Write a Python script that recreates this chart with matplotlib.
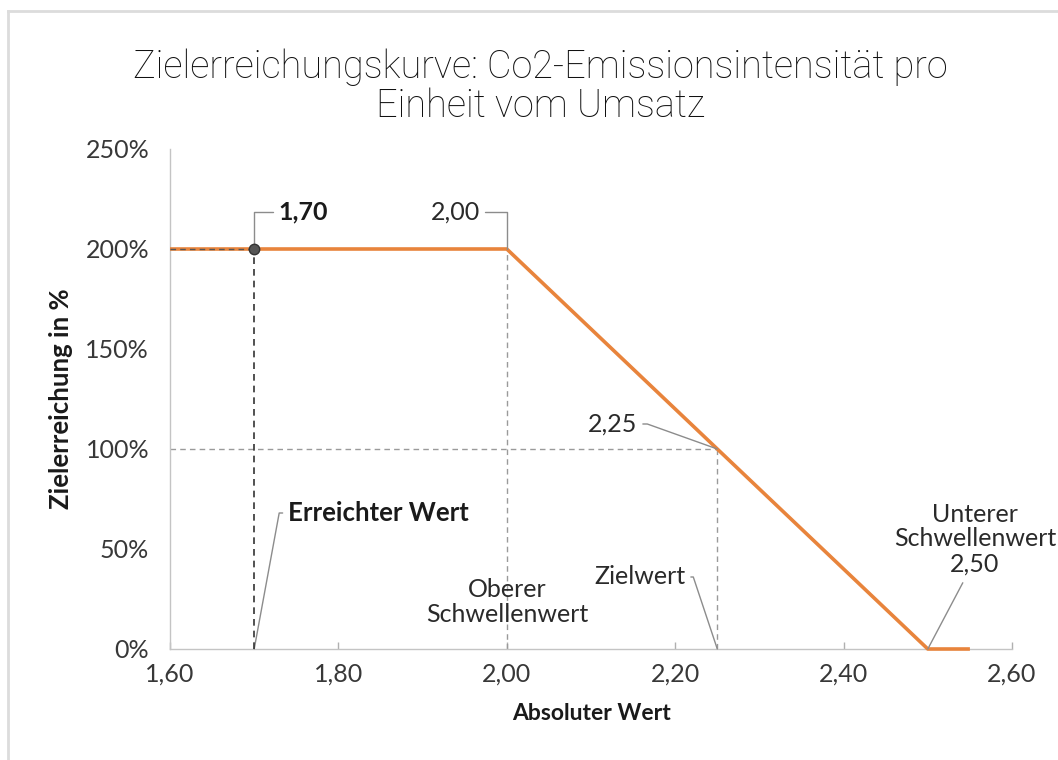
import matplotlib
matplotlib.use("Agg")
import matplotlib.pyplot as plt
from matplotlib.lines import Line2D
from matplotlib.ticker import FuncFormatter, FixedLocator
from matplotlib import font_manager

# ---------------- data ----------------
curve_x = [1.60, 2.00, 2.50, 2.55]
curve_y = [200, 200, 0, 0]
achieved_x = 1.70
achieved_y = 200
upper_x = 2.00
upper_y = 200
target_x = 2.25
target_y = 100
lower_x = 2.50
lower_y = 0
x_ticks = [1.60, 1.80, 2.00, 2.20, 2.40, 2.60]
y_ticks = [0, 50, 100, 150, 200, 250]
title = "Zielerreichungskurve: Co2-Emissionsintensität pro\nEinheit vom Umsatz"
x_label = "Absoluter Wert"
y_label = "Zielerreichung in %"

plt.rcParams["font.family"] = ["Lato", "DejaVu Sans"]

W, H = 1058, 760
fig = plt.figure(figsize=(W / 100, H / 100), dpi=100)
fig.patch.set_facecolor("white")

# page border (top & left)
fig.add_artist(Line2D([8 / W, 1], [(H - 11) / H, (H - 11) / H], transform=fig.transFigure, color="#dcdcdc", lw=2))
fig.add_artist(Line2D([8 / W, 8 / W], [0, (H - 11) / H], transform=fig.transFigure, color="#dcdcdc", lw=2))

ax = fig.add_axes([170 / W, (H - 649) / H, (1012 - 170) / W, 500 / H])
ax.set_xlim(1.60, 2.60)
ax.set_ylim(0, 250)
for s in ["top", "right"]:
    ax.spines[s].set_visible(False)
for s in ["left", "bottom"]:
    ax.spines[s].set_color("#c4c4c4")
    ax.spines[s].set_linewidth(1.0)

ax.xaxis.set_major_locator(FixedLocator(x_ticks))
ax.yaxis.set_major_locator(FixedLocator(y_ticks))
ax.xaxis.set_major_formatter(FuncFormatter(lambda v, p: f"{v:.2f}".replace(".", ",")))
ax.yaxis.set_major_formatter(FuncFormatter(lambda v, p: f"{v:.0f}%"))
ax.tick_params(axis="x", direction="in", length=5, color="#b0b0b0", width=1,
               labelsize=18, labelcolor="#383838", pad=10)
ax.tick_params(axis="y", length=0, labelsize=18, labelcolor="#383838", pad=15)

ax.set_xlabel(x_label, fontsize=16.5, fontweight="bold", color="#1a1a1a", labelpad=12)
ax.set_ylabel(y_label, fontsize=18.5, fontweight="bold", color="#1a1a1a", labelpad=9)

# helper dashed lines
grey_dash = dict(color="#9a9a9a", lw=1.0, dashes=(4, 3))
ax.plot([upper_x, upper_x], [0, upper_y], **grey_dash, zorder=2)
ax.plot([curve_x[0], target_x], [target_y, target_y], **grey_dash, zorder=2)
ax.plot([target_x, target_x], [0, target_y], **grey_dash, zorder=2)

# curve
ax.plot(curve_x, curve_y, color="#E8843C", lw=2.6, solid_capstyle="butt", zorder=3, clip_on=False)

# achieved value
ax.plot([achieved_x, achieved_x], [0, achieved_y], color="#333333", lw=1.2, dashes=(4, 3), zorder=4)
ax.plot([curve_x[0], achieved_x], [achieved_y, achieved_y], color="#555555", lw=1.0, dashes=(4, 3), zorder=4)
ax.plot([achieved_x], [achieved_y], "o", ms=7.5, color="#555555", mec="#333333", zorder=5)

lead = dict(arrowstyle="-", color="#8c8c8c", lw=1.0, patchA=None, shrinkB=0)
txtc = "#2a2a2a"

ax.annotate("1,70", xy=(achieved_x, achieved_y), xytext=(24, 37), textcoords="offset pixels",
            ha="left", va="center", fontsize=18, fontweight="bold", color="#1a1a1a",
            arrowprops=dict(**lead, relpos=(0, 0.5), shrinkA=4,
                            connectionstyle="angle,angleA=180,angleB=90,rad=0"),
            annotation_clip=False)
ax.annotate("2,00", xy=(upper_x, upper_y), xytext=(-27, 37), textcoords="offset pixels",
            ha="right", va="center", fontsize=18, color=txtc,
            arrowprops=dict(**lead, relpos=(1, 0.5), shrinkA=4,
                            connectionstyle="angle,angleA=0,angleB=90,rad=0"),
            annotation_clip=False)
ax.annotate("2,25", xy=(target_x, target_y), xytext=(-80, 25), textcoords="offset pixels",
            ha="right", va="center", fontsize=18, color=txtc,
            arrowprops=dict(**lead, relpos=(1, 0.5), shrinkA=4,
                            connectionstyle="arc,angleA=0,armA=10,angleB=90,armB=0,rad=0"),
            annotation_clip=False)
ax.annotate("Zielwert", xy=(target_x, 0), xytext=(-32, 72), textcoords="offset pixels",
            ha="right", va="center", fontsize=18, color=txtc,
            arrowprops=dict(**lead, relpos=(1, 0.5), shrinkA=4,
                            connectionstyle="arc,angleA=0,armA=8,angleB=90,armB=0,rad=0"),
            annotation_clip=False)
ax.annotate("Oberer\nSchwellenwert", xy=(upper_x, 0), xytext=(0, 47), textcoords="offset pixels",
            ha="center", va="center", fontsize=18, color=txtc, linespacing=1.15,
            annotation_clip=False)
ax.annotate("Erreichter Wert", xy=(achieved_x, 0), xytext=(34, 136), textcoords="offset pixels",
            ha="left", va="center", fontsize=18.5, fontweight="bold", color="#1a1a1a",
            arrowprops=dict(**lead, relpos=(0, 0.5), shrinkA=4,
                            connectionstyle="arc,angleA=180,armA=9,angleB=90,armB=0,rad=0"),
            annotation_clip=False)
ax.annotate("Unterer\nSchwellenwert\n2,50", xy=(lower_x, lower_y), xytext=(47, 110), textcoords="offset pixels",
            ha="center", va="center", fontsize=18, color=txtc, linespacing=1.1,
            arrowprops=dict(**lead, relpos=(0.45, 0), shrinkA=6,
                            connectionstyle="arc3,rad=0"),
            annotation_clip=False)

# title, fitted to the reference width
names = {f.name for f in font_manager.fontManager.ttflist}
tfam = [n for n in ["Liberation Sans Narrow", "Roboto", "Lato"] if n in names][:1] + ["DejaVu Sans"]
t = fig.text(540 / W, (H - 87) / H, title, ha="center", va="center", fontsize=26,
             family=tfam, fontweight="light", color="#111111", linespacing=1.05)
fig.canvas.draw()
bb = t.get_window_extent()
t.set_fontsize(26 * 815 / bb.width)

fig.savefig("out.png", dpi=100, facecolor="white")
